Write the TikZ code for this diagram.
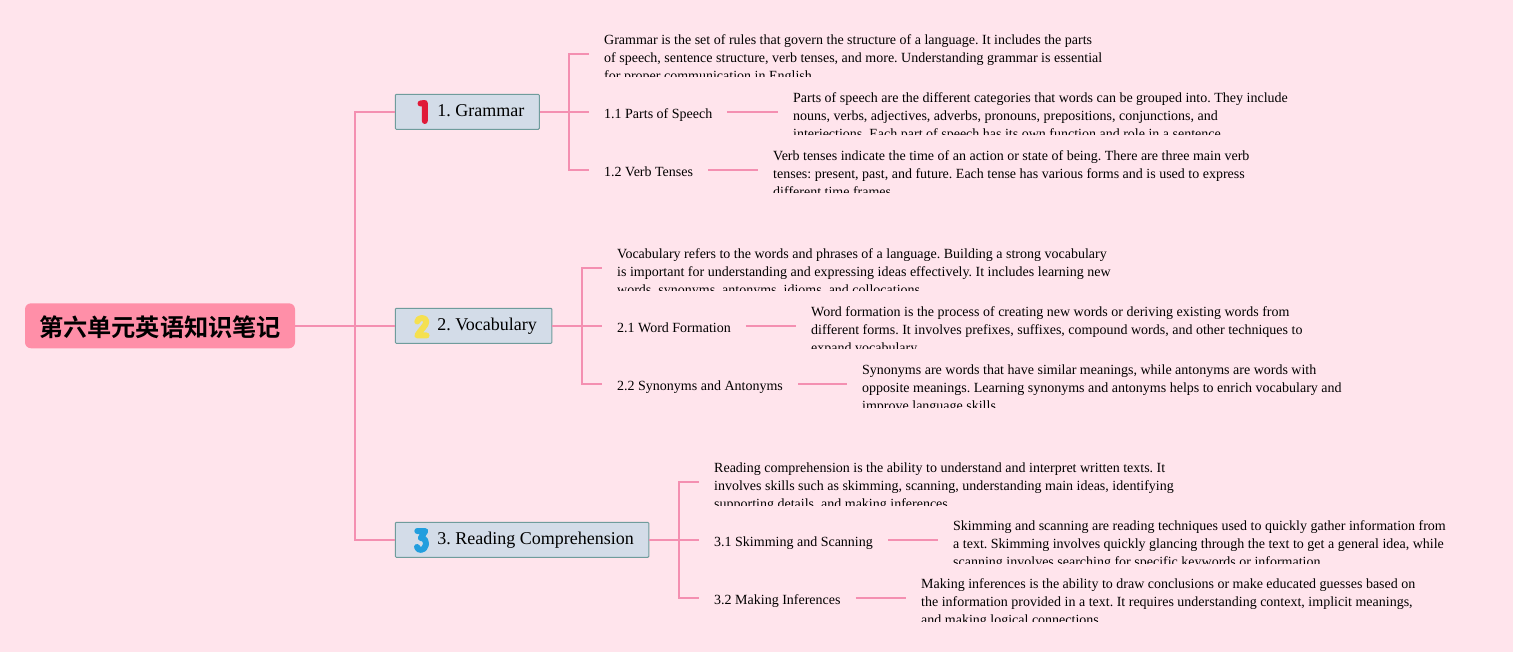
\documentclass[tikz,border=0pt]{standalone}
\usepackage{fontspec}
\setmainfont{Liberation Serif}
\frenchspacing
\newfontfamily\cjkbold[BoldFont={Noto Sans CJK SC Bold}]{Noto Sans CJK SC}
\definecolor{bgpink}{HTML}{FFE4EC}
\definecolor{linkpink}{HTML}{F48FB1}
\definecolor{rootpink}{HTML}{FF8FA8}
\definecolor{topicfill}{HTML}{D3DCE8}
\definecolor{topicedge}{HTML}{6F9C9C}
\definecolor{iconred}{HTML}{E01A38}
\definecolor{iconyellow}{HTML}{F5E050}
\definecolor{iconblue}{HTML}{229EDE}
\tikzset{
  x=1pt,y=-1pt,
  link/.style={draw=linkpink,line width=2pt},
  rootbox/.style={fill=rootpink,rounded corners=6pt,minimum width=270pt,minimum height=45pt,inner sep=0pt,text height=26pt,text depth=4pt,font=\cjkbold\bfseries\fontsize{24.2}{30}\selectfont,text=black},
  topic/.style={draw=topicedge,fill=topicfill,line width=1pt,rounded corners=1pt,anchor=west,minimum height=35pt,inner sep=0pt,text height=14pt,text depth=5.2pt,font=\fontsize{18}{22}\selectfont,text=black},
  iconstroke/.style={line width=6pt,line cap=round,line join=round},
  leaf/.style={anchor=west,inner sep=0pt,text height=14pt,text depth=0pt,font=\fontsize{14}{18}\selectfont,text=black},
  detailbox/.style={anchor=west,inner sep=0pt,minimum height=48pt},
  detailtext/.style={anchor=north west,inner sep=0pt,align=left,font=\fontsize{14}{18}\selectfont,text=black},
}
\newcommand{\detailnote}[5]{%
  \node[detailbox,minimum width=#4] (#1) at (#2,#3) {};
  \begin{scope}
    \clip ([yshift=1pt]#1.south west) rectangle (#1.north east);
    \node[detailtext] (#1t) at (#1.north west) {\rule{0pt}{15pt}#5};
  \end{scope}}
\newcommand{\topictext}[1]{\hspace*{42pt}#1\hspace*{15pt}}
\begin{document}
\begin{tikzpicture}
\useasboundingbox (0,0) rectangle (1513,652);
\fill[bgpink] (0,0) rectangle (1513,652);
% nodes
\node[rootbox] (root) at (160,325.8) {第六单元英语知识笔记};
\node[topic] (b1) at (394.8,111.8) {\topictext{1. Grammar}};
\node[topic] (b2) at (394.8,325.8) {\topictext{2. Vocabulary}};
\node[topic] (b3) at (394.8,539.8) {\topictext{3. Reading Comprehension}};
% number markers
\draw[iconstroke,iconred] (420.5,103.5) -- (424.8,103) -- (424.8,121);
\draw[iconstroke,iconyellow] (417.3,321.5) .. controls (417.8,317) and (426,316.8) .. (426.3,321.3) .. controls (426.6,325.5) and (421,329) .. (417.3,335.5) -- (426.5,335.5);
\draw[iconstroke,iconblue] (417.3,531) -- (425.3,531) -- (420.8,538) .. controls (425.8,537.8) and (426,542.5) .. (425.8,545) .. controls (425,551) and (417.5,551.3) .. (417,547);
\coordinate (j0) at (355,325.8);
\coordinate (j1) at (569,111.8);
\coordinate (j2) at (582,325.8);
\coordinate (j3) at (679,539.8);
\node[leaf] (l11) at (604,111.8) {1.1 Parts of Speech};
\node[leaf] (l12) at (604,169.8) {1.2 Verb Tenses};
\node[leaf] (l21) at (617,325.8) {2.1 Word Formation};
\node[leaf] (l22) at (617,383.8) {2.2 Synonyms and Antonyms};
\node[leaf] (l31) at (714,539.8) {3.1 Skimming and Scanning};
\node[leaf] (l32) at (714,597.8) {3.2 Making Inferences};
\detailnote{d1}{604}{53.8}{510pt}{Grammar is the set of rules that govern the structure of a language. It includes the parts\\of speech, sentence structure, verb tenses, and more. Understanding grammar is essential\\for proper communication in English.}
\detailnote{d11}{793}{111.8}{510pt}{Parts of speech are the different categories that words can be grouped into. They include\\nouns, verbs, adjectives, adverbs, pronouns, prepositions, conjunctions, and\\interjections. Each part of speech has its own function and role in a sentence.}
\detailnote{d12}{773}{169.8}{510pt}{Verb tenses indicate the time of an action or state of being. There are three main verb\\tenses: present, past, and future. Each tense has various forms and is used to express\\different time frames.}
\detailnote{d2}{617}{267.8}{510pt}{Vocabulary refers to the words and phrases of a language. Building a strong vocabulary\\is important for understanding and expressing ideas effectively. It includes learning new\\words, synonyms, antonyms, idioms, and collocations.}
\detailnote{d21}{811}{325.8}{510pt}{Word formation is the process of creating new words or deriving existing words from\\different forms. It involves prefixes, suffixes, compound words, and other techniques to\\expand vocabulary.}
\detailnote{d22}{862}{383.8}{510pt}{Synonyms are words that have similar meanings, while antonyms are words with\\opposite meanings. Learning synonyms and antonyms helps to enrich vocabulary and\\improve language skills.}
\detailnote{d3}{714}{481.8}{510pt}{Reading comprehension is the ability to understand and interpret written texts. It\\involves skills such as skimming, scanning, understanding main ideas, identifying\\supporting details, and making inferences.}
\detailnote{d31}{953}{539.8}{510pt}{Skimming and scanning are reading techniques used to quickly gather information from\\a text. Skimming involves quickly glancing through the text to get a general idea, while\\scanning involves searching for specific keywords or information.}
\detailnote{d32}{921}{597.8}{510pt}{Making inferences is the ability to draw conclusions or make educated guesses based on\\the information provided in a text. It requires understanding context, implicit meanings,\\and making logical connections.}
% connectors
\draw[link] (root.east) -- (b2.west);
\draw[link] (j0) |- (b1.west);
\draw[link] (j0) |- (b3.west);
\foreach \b/\j/\d/\la/\lb in {b1/j1/d1/l11/l12,b2/j2/d2/l21/l22,b3/j3/d3/l31/l32}{
  \draw[link,shorten >=15pt] (\b.east) -- (\la.west);
  \draw[link,shorten >=15pt] (\j) |- (\d.west);
  \draw[link,shorten >=15pt] (\j) |- (\lb.west);
}
\foreach \l/\d in {l11/d11,l12/d12,l21/d21,l22/d22,l31/d31,l32/d32}{
  \draw[link,shorten <=15pt,shorten >=15pt] (\l.east) -- (\d.west);
}
\end{tikzpicture}
\end{document}
